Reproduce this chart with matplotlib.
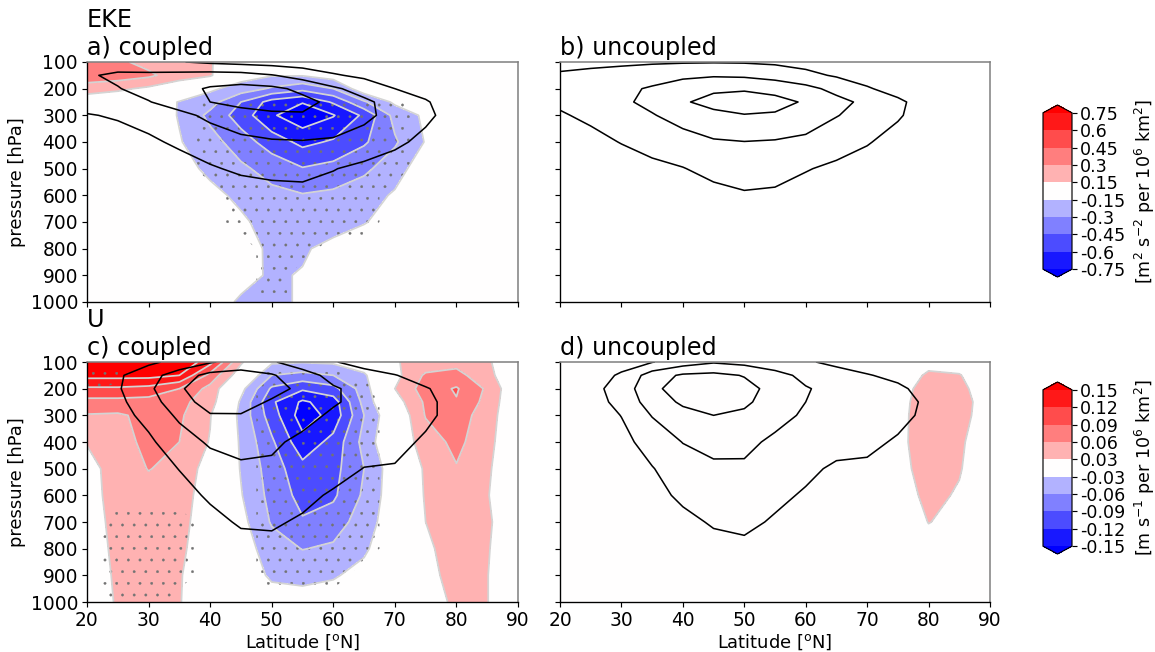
import numpy as np
from matplotlib import pyplot as plt

plt.rcParams['hatch.color'] = '0.45'
plt.rcParams['hatch.linewidth'] = 0.2

W, H, DPI = 1155, 652, 140

lat = np.arange(20, 91, 5)
plev = np.array([100, 150, 200, 250, 300, 400, 500, 600, 700, 800, 900, 1000])

# EKE response in the coupled run (0.01 m2 s-2 per 1e6 km2), rows = plev
eke_resp_coupled = np.array([
    [36, 33, 25, 20, 16, 5, -5, -8, -5, -2, 0, 0, 0, 0, 0],
    [40, 38, 33, 22, 17, -8, -14, -14, -8, -3, 0, 0, 0, 0, 0],
    [22, 18, 12, 4, -12, -22, -32, -40, -30, -5, -2, 0, 0, 0, 0],
    [5, 2, -3, -16, -24, -45, -66, -74, -58, -32, -12, -2, 0, 0, 0],
    [0, 0, -5, -16, -34, -52, -73, -85, -76, -57, -25, -12, 0, 0, 0],
    [0, 0, -3, -14, -24, -38, -52, -64, -58, -47, -32, -14, 0, 0, 0],
    [0, 0, 0, -8, -19, -27, -36, -44, -40, -33, -22, -5, 0, 0, 0],
    [0, 0, 0, -3, -10, -19, -26, -29, -27, -22, -13, -3, 0, 0, 0],
    [0, 0, 0, 0, -5, -12, -22, -24, -22, -16, -8, 0, 0, 0, 0],
    [0, 0, 0, 0, -2, -8, -18, -17, -10, -5, 0, 0, 0, 0, 0],
    [0, 0, 0, 0, -3, -10, -17, -14, -5, 0, 0, 0, 0, 0, 0],
    [0, 0, 0, 0, -8, -17, -19, -13, -5, 0, 0, 0, 0, 0, 0],
]) / 100

# EKE climatology (m2 s-2)
eke_clim_coupled = np.array([
    [130, 125, 115, 102, 92, 85, 80, 75, 70, 60, 50, 40, 30, 20, 15],
    [145, 158, 160, 165, 170, 168, 153, 130, 105, 90, 75, 60, 45, 30, 20],
    [135, 148, 165, 185, 205, 215, 210, 190, 158, 130, 100, 80, 55, 35, 25],
    [120, 132, 148, 170, 200, 215, 218, 212, 190, 160, 130, 105, 70, 45, 30],
    [97, 105, 118, 138, 160, 180, 192, 196, 185, 160, 135, 112, 75, 50, 35],
    [70, 80, 92, 108, 125, 138, 145, 147, 143, 132, 112, 85, 60, 40, 30],
    [50, 58, 68, 80, 95, 108, 114, 115, 102, 88, 72, 58, 45, 32, 25],
    [40, 45, 52, 60, 68, 76, 82, 85, 80, 70, 58, 46, 36, 28, 22],
    [35, 38, 44, 50, 56, 62, 67, 69, 65, 58, 48, 38, 30, 24, 20],
    [30, 33, 38, 43, 48, 52, 56, 57, 54, 48, 40, 32, 26, 20, 17],
    [25, 28, 32, 36, 40, 44, 47, 48, 45, 40, 33, 27, 22, 17, 15],
    [20, 23, 26, 30, 33, 36, 38, 39, 37, 33, 27, 22, 18, 15, 12],
])
eke_clim_uncoupled = np.array([
    [80, 86, 90, 94, 96, 97, 96, 92, 85, 75, 62, 50, 38, 28, 20],
    [108, 115, 122, 130, 140, 145, 142, 130, 112, 95, 78, 60, 45, 32, 24],
    [118, 128, 140, 155, 175, 192, 195, 185, 165, 135, 105, 80, 60, 45, 32],
    [108, 122, 142, 162, 195, 215, 222, 215, 195, 165, 138, 110, 75, 50, 35],
    [95, 110, 128, 147, 168, 188, 198, 195, 180, 152, 132, 106, 72, 50, 35],
    [72, 85, 102, 118, 132, 145, 149, 146, 138, 122, 104, 80, 58, 42, 30],
    [55, 63, 75, 88, 98, 115, 122, 118, 103, 90, 76, 60, 45, 34, 26],
    [42, 48, 56, 64, 72, 85, 95, 92, 80, 70, 60, 48, 38, 29, 22],
    [35, 40, 46, 52, 58, 66, 72, 72, 65, 57, 48, 39, 31, 24, 19],
    [30, 34, 39, 44, 49, 54, 58, 58, 53, 47, 40, 33, 26, 21, 17],
    [26, 29, 33, 37, 41, 45, 48, 48, 45, 40, 34, 28, 22, 18, 15],
    [22, 24, 27, 30, 33, 36, 38, 38, 36, 32, 27, 22, 18, 15, 12],
])
# significant points (1) of the coupled EKE response
eke_sig_coupled = [
    "000000000000000",
    "000000000000000",
    "000000000000000",
    "000011111110000",
    "000011111110000",
    "000011111110000",
    "000011111110000",
    "000001111100000",
    "000001111100000",
    "000000110000000",
    "000000100000000",
    "000000100000000",
]

# zonal wind response (0.01 m s-1 per 1e6 km2)
u_resp_coupled = np.array([
    [20, 20, 19, 18, 13, 3.5, -2.5, -2.8, -2.5, -1, 2.8, 4, 5, 3.5, 0],
    [16, 16, 16, 15, 8, 1, -6, -7, -6, -3.5, 2, 6.5, 7, 4, 0],
    [11.5, 11.5, 11, 9, 5, -2, -9.5, -11.5, -10, -4.5, 3, 7.5, 9.3, 5.5, 0],
    [8, 8, 7.8, 6.8, 4.5, -3.5, -11.5, -15.5, -13.5, -5, 1.5, 6.5, 8.8, 5, 0],
    [5.8, 5.6, 6.8, 6.5, 3.2, -4, -10.5, -16.5, -14, -6, 0, 6.2, 7.5, 4.5, 0],
    [3.2, 4.8, 6.8, 6, 2.8, -3.5, -8.5, -14, -11, -5, 0.5, 4.5, 6.8, 4, 0],
    [1.8, 4.5, 6.1, 5.2, 1.5, -3.2, -7.5, -11, -10, -6, -1, 3.5, 5.8, 3.5, 0],
    [1.5, 4.5, 5, 4.5, 1.2, -2.8, -7, -10, -9.5, -5.5, -1, 3.3, 4.8, 3.2, 0],
    [1.2, 4.2, 4.5, 4.2, 0.8, -2, -6.3, -8.7, -7.5, -4.5, -1, 3, 4.5, 3.6, 0],
    [1, 3.9, 4.2, 3.8, 0.5, -1.5, -4.5, -6.1, -5.5, -3.5, -0.5, 2.5, 4.2, 3.3, 0],
    [0.8, 3.6, 4, 3.3, 0.3, -1, -3.5, -3.8, -3.3, -2, 0, 2.3, 3.8, 3.1, 0],
    [0.5, 3.4, 3.8, 3.2, 0.2, -0.5, -1.5, -1.8, -1.5, -1, 0, 1.5, 3.6, 3.1, 0],
]) / 100
u_resp_uncoupled = np.array([
    [0, 0, 0, 0, 0, 0, 0, 0, 0, 0, 0, 0, 2, 1.5, 0],
    [0, 0, 0, 0, 0, 0, 0, 0, 0, 0, 0, 1, 3.5, 3.2, 0.5],
    [0, 0, 0, 0, 0, 0, 0, 0, 0, 0, 0, 1.5, 4.5, 3.9, 1],
    [0, 0, 0, 0, 0, 0, 0, 0, 0, 0, 0, 1.8, 4.8, 4.2, 1.5],
    [0, 0, 0, 0, 0, 0, 0, 0, 0, 0, 0, 2, 4.8, 4, 1.5],
    [0, 0, 0, 0, 0, 0, 0, 0, 0, 0, 0, 2.2, 4.6, 3.6, 0.5],
    [0, 0, 0, 0, 0, 0, 0, 0, 0, 0, 0, 1.8, 4.5, 3.3, 0],
    [0, 0, 0, 0, 0, 0, 0, 0, 0, 0, 0, 1, 4, 2.6, 0],
    [0, 0, 0, 0, 0, 0, 0, 0, 0, 0, 0, 0, 3.1, 2, 0],
    [0, 0, 0, 0, 0, 0, 0, 0, 0, 0, 0, 0, 1.5, 1, 0],
    [0, 0, 0, 0, 0, 0, 0, 0, 0, 0, 0, 0, 0, 0, 0],
    [0, 0, 0, 0, 0, 0, 0, 0, 0, 0, 0, 0, 0, 0, 0],
]) / 100

# zonal wind climatology (m s-1)
u_clim_coupled = np.array([
    [5, 7, 8, 13, 19, 24, 21, 15, 10.5, 7, 5, 4, 3, 2, 1],
    [6, 8.5, 16, 25, 33, 34, 31, 24, 17, 13, 10.3, 7, 5, 3, 2],
    [6, 9, 18, 29, 35, 36, 33, 28, 21, 17, 14, 10.5, 7, 4.5, 3],
    [5, 8, 15, 27, 33, 33.5, 29, 25.5, 21, 17, 14.5, 11.5, 7.5, 5, 3],
    [4, 7, 12.5, 22, 29.5, 29.5, 26, 23, 18.5, 16, 14, 11.5, 7.5, 5, 3],
    [3, 5, 8.5, 15, 21.5, 23, 21.5, 18, 15, 13.5, 12, 9, 6, 4, 2.5],
    [2.5, 4, 6.5, 10.2, 15, 18.5, 18.5, 16, 13, 9.8, 9.5, 7, 5, 3, 2],
    [2, 3, 5, 7.5, 11, 14, 14.5, 12, 9, 7, 6, 5, 3.5, 2.5, 2],
    [1.5, 2.5, 4, 6, 8, 10.8, 11, 9, 7, 5.5, 4.5, 3.5, 2.5, 2, 1.5],
    [1, 2, 3, 4.5, 6, 7.5, 8, 7, 5.5, 4.5, 3.5, 2.5, 2, 1.5, 1],
    [0.5, 1.5, 2, 3, 4, 5, 5.5, 5, 4, 3.5, 2.5, 2, 1.5, 1, 0.5],
    [0, 1, 1.5, 2, 2.5, 3, 3.5, 3, 2.5, 2, 1.5, 1, 1, 0.5, 0],
])
u_clim_uncoupled = np.array([
    [4, 5, 7, 9.5, 15, 19, 17, 13, 11, 8, 6, 4.5, 3.5, 2.5, 1.5],
    [4.5, 6.5, 11, 25, 31.5, 32.5, 29.5, 24, 17, 13.5, 10.5, 8, 5.5, 4, 3],
    [4.5, 7, 14, 28, 34, 35, 33, 27, 20.8, 16.5, 14, 11.5, 7, 5, 3.5],
    [4, 6.5, 12.5, 25, 31.5, 33, 31.5, 26, 20, 17, 15, 13, 8.5, 5.5, 3.5],
    [3.5, 5.5, 10.2, 20.5, 27, 30, 28.5, 23.5, 18.5, 16, 14, 12.5, 8, 5, 3],
    [3, 4.5, 7.5, 13.5, 20.3, 23.5, 22.5, 18, 15, 13.5, 12, 9, 6, 4, 2.5],
    [2.5, 3.5, 6, 9.6, 14.5, 18, 18.5, 15.5, 12, 8.5, 8.5, 6.5, 4.5, 3, 2],
    [2, 3, 4.5, 7.5, 11.5, 14, 14.5, 12, 9, 7, 6, 5, 3.5, 2.5, 2],
    [1.5, 2.5, 3.5, 5.5, 8, 10.8, 12, 9, 7, 5.5, 4.5, 3.5, 2.5, 2, 1.5],
    [1, 2, 3, 4.5, 6, 7.5, 8, 7, 5.5, 4.5, 3.5, 2.5, 2, 1.5, 1],
    [0.5, 1.5, 2, 3, 4, 5, 5.5, 5, 4, 3.5, 2.5, 2, 1.5, 1, 0.5],
    [0, 1, 1.5, 2, 2.5, 3, 3.5, 3, 2.5, 2, 1.5, 1, 1, 0.5, 0],
])
u_sig_coupled = [
    "000000000000000",
    "110000111000000",
    "100000111100000",
    "000000111100000",
    "000000111100000",
    "000000111100000",
    "000000111100000",
    "000000111100000",
    "011100111100000",
    "011100111100000",
    "011100111000000",
    "011000000000000",
]

eke_levels = [-0.75, -0.6, -0.45, -0.3, -0.15, 0.15, 0.3, 0.45, 0.6, 0.75]
eke_ticklabels = ['-0.75', '-0.6', '-0.45', '-0.3', '-0.15',
                  '0.15', '0.3', '0.45', '0.6', '0.75']
u_levels = [-0.15, -0.12, -0.09, -0.06, -0.03, 0.03, 0.06, 0.09, 0.12, 0.15]
u_ticklabels = ['-0.15', '-0.12', '-0.09', '-0.06', '-0.03',
                '0.03', '0.06', '0.09', '0.12', '0.15']
eke_clim_levels = [100, 150, 200]
u_clim_levels = [10, 20, 30]


def rect(x0, y0, x1, y1):
    # pixel box -> figure fraction
    return [x0 / W, 1 - y1 / H, (x1 - x0) / W, (y1 - y0) / H]


def panel(ax, resp, levels, clim, clim_levels, sig=None):
    cf = None
    if resp is not None:
        cf = ax.contourf(lat, plev, resp, levels=levels, cmap='bwr', extend='both')
        ax.contour(lat, plev, resp, levels=levels, colors='#d4d4d4',
                   linewidths=0.9, linestyles='solid')
    if sig is not None:
        mask = np.array([[int(c) for c in row] for row in sig])
        ax.contourf(lat, plev, mask, levels=[0.5, 1.5], colors='none', hatches=['..'])
    ax.contour(lat, plev, clim, levels=clim_levels, colors='k', linewidths=0.8)
    ax.set_xlim(20, 90)
    ax.set_ylim(1000, 100)
    ax.set_xticks(np.arange(20, 91, 10))
    ax.set_yticks(np.arange(100, 1001, 100))
    ax.tick_params(labelsize=9.6, length=2.6, width=0.6, pad=2)
    for s in ['top', 'right']:
        ax.spines[s].set_color('0.5')
    for s in ['left', 'bottom']:
        ax.spines[s].set_linewidth(0.7)
    return cf


fig = plt.figure(figsize=(W / DPI, H / DPI), dpi=DPI)
ax_a = fig.add_axes(rect(87, 62, 518, 302))
ax_b = fig.add_axes(rect(560, 62, 990, 302))
ax_c = fig.add_axes(rect(87, 362, 518, 602))
ax_d = fig.add_axes(rect(560, 362, 990, 602))

cf_eke = panel(ax_a, eke_resp_coupled, eke_levels, eke_clim_coupled, eke_clim_levels, eke_sig_coupled)
panel(ax_b, None, eke_levels, eke_clim_uncoupled, eke_clim_levels)
cf_u = panel(ax_c, u_resp_coupled, u_levels, u_clim_coupled, u_clim_levels, u_sig_coupled)
panel(ax_d, u_resp_uncoupled, u_levels, u_clim_uncoupled, u_clim_levels)

tfs = 12.3
ax_a.set_title('EKE\na) coupled', loc='left', fontsize=tfs, pad=3.5)
ax_b.set_title('b) uncoupled', loc='left', fontsize=tfs, pad=3.5)
ax_c.set_title('U\nc) coupled', loc='left', fontsize=tfs, pad=3.5)
ax_d.set_title('d) uncoupled', loc='left', fontsize=tfs, pad=3.5)

for ax in (ax_a, ax_c):
    ax.set_ylabel('pressure [hPa]', fontsize=9.2, labelpad=2.5)
for ax in (ax_b, ax_d):
    ax.tick_params(labelleft=False)
for ax in (ax_a, ax_b):
    ax.tick_params(labelbottom=False)
for ax in (ax_c, ax_d):
    ax.set_xlabel(r'Latitude [$^\mathrm{o}$N]', fontsize=9.2, labelpad=1.5)

cax1 = fig.add_axes(rect(1043, 105, 1072, 277))
cb1 = fig.colorbar(cf_eke, cax=cax1, ticks=eke_levels)
cb1.ax.set_yticklabels(eke_ticklabels)
cb1.set_label(r'[m$^2$ s$^{-2}$ per 10$^6$ km$^2$]', fontsize=9)

cax2 = fig.add_axes(rect(1043, 382, 1072, 554))
cb2 = fig.colorbar(cf_u, cax=cax2, ticks=u_levels)
cb2.ax.set_yticklabels(u_ticklabels)
cb2.set_label(r'[m s$^{-1}$ per 10$^6$ km$^2$]', fontsize=9)

for cb in (cb1, cb2):
    cb.ax.tick_params(labelsize=9, length=2.6, width=0.6, pad=1.5)
    cb.outline.set_linewidth(0.6)

fig.savefig('out.png', dpi=DPI)
